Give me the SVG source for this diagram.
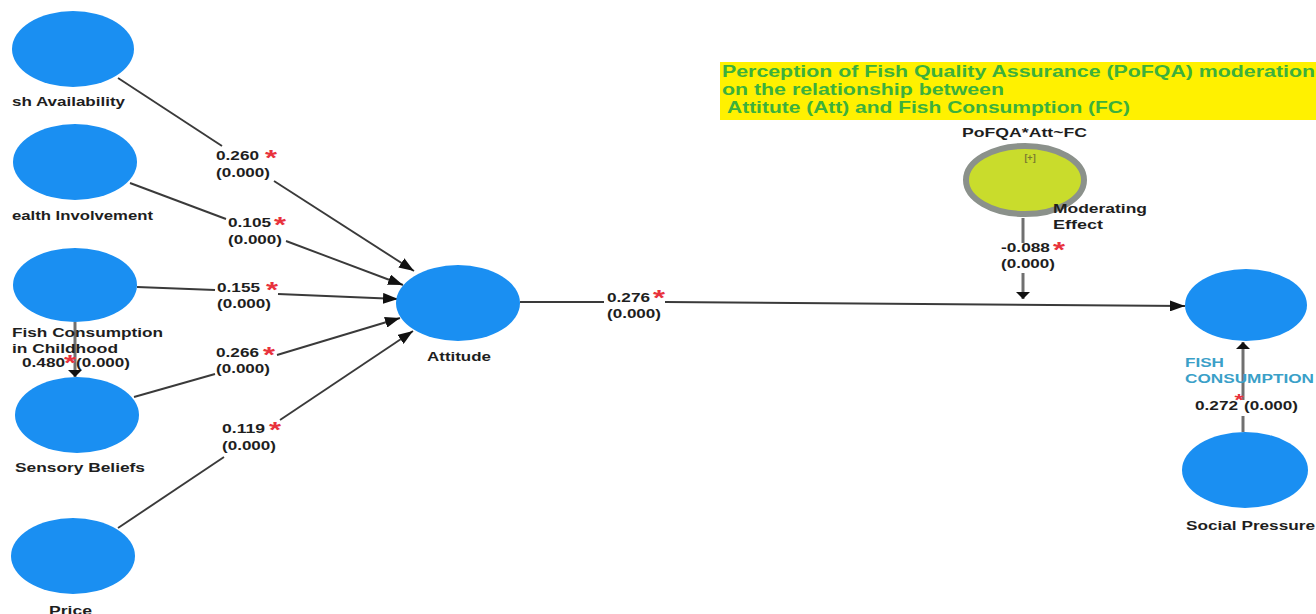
<svg xmlns="http://www.w3.org/2000/svg" width="1316" height="614" viewBox="0 0 1316 614">
<style>
text{font-family:"Liberation Sans",Arial,sans-serif;font-weight:bold;font-size:13px;fill:#1e1e1e}
.lv{fill:#1a8ff2}
.e{stroke:#3a3a3a;stroke-width:1.9;fill:none}
.g{stroke:#707070;stroke-width:3;fill:none}
.st{fill:#e8323c;font-size:22px;text-anchor:middle}
.tt{fill:#3cb03c;font-size:16px}
.fc{fill:#3aa0c8}
</style>
<defs>
<marker id="a" markerUnits="userSpaceOnUse" markerWidth="15" markerHeight="11" refX="15" refY="5.5" orient="auto"><path d="M0,0L15,5.5L0,11z" fill="#111"/></marker>
<marker id="f" markerUnits="userSpaceOnUse" markerWidth="7" markerHeight="14" refX="7" refY="7" orient="auto"><path d="M0,0L7,7L0,14z" fill="#111"/></marker>
</defs>
<rect width="1316" height="614" fill="#fff"/>

<g id="title">
<rect x="720" y="62" width="596" height="58" fill="#fff100"/>
<text class="tt" x="722" y="77" textLength="593" lengthAdjust="spacingAndGlyphs">Perception of Fish Quality Assurance (PoFQA) moderation</text>
<text class="tt" x="722" y="95" textLength="282" lengthAdjust="spacingAndGlyphs">on the relationship between</text>
<text class="tt" x="727" y="113" textLength="403" lengthAdjust="spacingAndGlyphs">Attitute (Att) and Fish Consumption (FC)</text>
</g>

<g id="connectors">
<path class="e" d="M118,78L222,146"/><path class="e" d="M274,181L414,271" marker-end="url(#a)"/>
<path class="e" d="M130,183L226,219"/><path class="e" d="M286,241L403,285" marker-end="url(#a)"/>
<path class="e" d="M137,287L215,290"/><path class="e" d="M278,294L398,299" marker-end="url(#a)"/>
<path class="e" d="M134,397L215,374"/><path class="e" d="M277,355L400,318" marker-end="url(#a)"/>
<path class="e" d="M118,528L224,457"/><path class="e" d="M280,420L413,331" marker-end="url(#a)"/>
<path class="e" d="M520,302L604,302" stroke="#222"/><path class="e" d="M665,302L1185,306" stroke="#111" marker-end="url(#a)"/>
<path class="g" d="M1023,218L1023,243"/><path class="g" d="M1023,273L1023,299" marker-end="url(#f)"/>
<path class="g" d="M75,322L75,377" marker-end="url(#f)"/>
<path class="g" d="M1243,432L1243,416"/><path class="g" d="M1243,400L1243,342" marker-end="url(#f)"/>

<text x="216" y="160" textLength="43" lengthAdjust="spacingAndGlyphs">0.260</text>
<text class="st" x="271" y="165" textLength="12" lengthAdjust="spacingAndGlyphs">*</text>
<text x="216" y="177" textLength="54" lengthAdjust="spacingAndGlyphs">(0.000)</text>

<text x="228" y="227" textLength="43" lengthAdjust="spacingAndGlyphs">0.105</text>
<text class="st" x="280" y="232" textLength="12" lengthAdjust="spacingAndGlyphs">*</text>
<text x="228" y="244" textLength="54" lengthAdjust="spacingAndGlyphs">(0.000)</text>

<text x="217" y="292" textLength="43" lengthAdjust="spacingAndGlyphs">0.155</text>
<text class="st" x="272" y="297" textLength="12" lengthAdjust="spacingAndGlyphs">*</text>
<text x="217" y="308" textLength="54" lengthAdjust="spacingAndGlyphs">(0.000)</text>

<text x="216" y="357" textLength="43" lengthAdjust="spacingAndGlyphs">0.266</text>
<text class="st" x="269" y="362" textLength="12" lengthAdjust="spacingAndGlyphs">*</text>
<text x="216" y="373" textLength="54" lengthAdjust="spacingAndGlyphs">(0.000)</text>

<text x="222" y="433" textLength="43" lengthAdjust="spacingAndGlyphs">0.119</text>
<text class="st" x="275" y="437" textLength="12" lengthAdjust="spacingAndGlyphs">*</text>
<text x="222" y="450" textLength="54" lengthAdjust="spacingAndGlyphs">(0.000)</text>

<text x="22" y="367" textLength="43" lengthAdjust="spacingAndGlyphs">0.480</text>
<text class="st" x="70" y="370" textLength="12" lengthAdjust="spacingAndGlyphs">*</text>
<text x="76" y="367" textLength="54" lengthAdjust="spacingAndGlyphs">(0.000)</text>

<text x="607" y="302" textLength="43" lengthAdjust="spacingAndGlyphs">0.276</text>
<text class="st" x="659" y="305" textLength="12" lengthAdjust="spacingAndGlyphs">*</text>
<text x="607" y="318" textLength="54" lengthAdjust="spacingAndGlyphs">(0.000)</text>

<text x="1001" y="252" textLength="49" lengthAdjust="spacingAndGlyphs">-0.088</text>
<text class="st" x="1059" y="257" textLength="12" lengthAdjust="spacingAndGlyphs">*</text>
<text x="1001" y="268" textLength="54" lengthAdjust="spacingAndGlyphs">(0.000)</text>

<text x="1195" y="410" textLength="43" lengthAdjust="spacingAndGlyphs">0.272</text>
<text class="st" x="1239" y="406" style="font-size:16px" textLength="9" lengthAdjust="spacingAndGlyphs">*</text>
<text x="1244" y="410" textLength="54" lengthAdjust="spacingAndGlyphs">(0.000)</text>
</g>

<g id="fish-availability">
<ellipse class="lv" cx="73" cy="49" rx="61" ry="38"/>
<text x="12" y="106" textLength="113" lengthAdjust="spacingAndGlyphs">sh Availability</text>
</g>
<g id="health-involvement">
<ellipse class="lv" cx="75" cy="162" rx="62" ry="38"/>
<text x="12" y="220" textLength="141" lengthAdjust="spacingAndGlyphs">ealth Involvement</text>
</g>
<g id="fish-consumption-childhood">
<ellipse class="lv" cx="75" cy="285" rx="62" ry="37"/>
<text x="12" y="337" textLength="151" lengthAdjust="spacingAndGlyphs">Fish Consumption</text>
<text x="12" y="353" textLength="106" lengthAdjust="spacingAndGlyphs">in Childhood</text>
</g>
<g id="sensory-beliefs">
<ellipse class="lv" cx="77" cy="415" rx="62" ry="38"/>
<text x="15" y="472" textLength="130" lengthAdjust="spacingAndGlyphs">Sensory Beliefs</text>
</g>
<g id="price">
<ellipse class="lv" cx="73" cy="556" rx="62" ry="38"/>
<text x="49" y="615" textLength="43" lengthAdjust="spacingAndGlyphs">Price</text>
</g>
<g id="attitude">
<ellipse class="lv" cx="458" cy="303" rx="62" ry="38"/>
<text x="427" y="361" textLength="64" lengthAdjust="spacingAndGlyphs">Attitude</text>
</g>
<g id="moderator">
<text x="962" y="137" textLength="125" lengthAdjust="spacingAndGlyphs">PoFQA*Att~FC</text>
<ellipse cx="1025" cy="180" rx="59" ry="34" fill="#c9dc2c" stroke="#8b918b" stroke-width="6"/>
<text x="1030" y="161" style="font-size:9px;fill:#7a7a30;text-anchor:middle">[+]</text>
<text x="1053" y="213" textLength="94" lengthAdjust="spacingAndGlyphs">Moderating</text>
<text x="1053" y="229" textLength="50" lengthAdjust="spacingAndGlyphs">Effect</text>
</g>
<g id="fish-consumption">
<ellipse class="lv" cx="1246" cy="305" rx="61" ry="36"/>
<text class="fc" x="1185" y="367" textLength="39" lengthAdjust="spacingAndGlyphs">FISH</text>
<text class="fc" x="1185" y="383" textLength="129" lengthAdjust="spacingAndGlyphs">CONSUMPTION</text>
</g>
<g id="social-pressure">
<ellipse class="lv" cx="1245" cy="470" rx="63" ry="38"/>
<text x="1186" y="530" textLength="129" lengthAdjust="spacingAndGlyphs">Social Pressure</text>
</g>
</svg>
